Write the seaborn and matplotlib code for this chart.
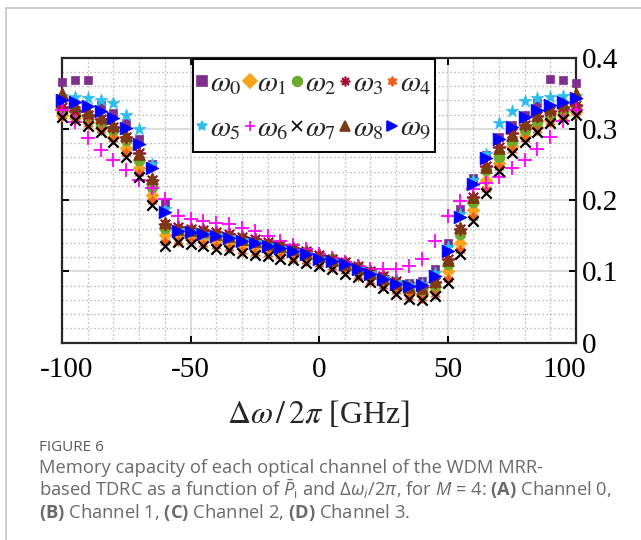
import matplotlib
matplotlib.use("Agg")
import matplotlib.pyplot as plt
import matplotlib.transforms as mtransforms
import seaborn as sns
import pandas as pd
from matplotlib.ticker import MultipleLocator, FixedLocator
from matplotlib.lines import Line2D
from matplotlib.patches import Rectangle

# Detuning grid (GHz)
detuning = [-100, -95, -90, -85, -80, -75, -70, -65, -60, -55,
            -50, -45, -40, -35, -30, -25, -20, -15, -10, -5,
            0, 5, 10, 15, 20, 25, 30, 35, 40, 45,
            50, 55, 60, 65, 70, 75, 80, 85, 90, 95, 100]

# Memory capacity per optical channel
mc_w0 = [0.365, 0.369, 0.369, 0.334, 0.322, 0.308, 0.285, 0.251, 0.196, 0.160,
         0.157, 0.155, 0.152, 0.149, 0.145, 0.142, 0.138, 0.135, 0.131, 0.126,
         0.120, 0.116, 0.112, 0.106, 0.100, 0.093, 0.087, 0.084, 0.087, 0.104,
         0.140, 0.188, 0.231, 0.263, 0.289, 0.306, 0.320, 0.336, 0.370, 0.368, 0.364]
mc_w1 = [0.320, 0.315, 0.309, 0.301, 0.289, 0.273, 0.245, 0.207, 0.151, 0.149,
         0.147, 0.145, 0.143, 0.140, 0.137, 0.134, 0.131, 0.127, 0.124, 0.120,
         0.116, 0.111, 0.105, 0.099, 0.092, 0.084, 0.077, 0.070, 0.067, 0.072,
         0.100, 0.140, 0.186, 0.228, 0.252, 0.276, 0.290, 0.302, 0.312, 0.319, 0.324]
mc_w2 = [0.325, 0.319, 0.315, 0.306, 0.298, 0.284, 0.256, 0.219, 0.161, 0.160,
         0.158, 0.156, 0.153, 0.150, 0.147, 0.143, 0.139, 0.135, 0.131, 0.127,
         0.122, 0.117, 0.112, 0.106, 0.099, 0.091, 0.084, 0.078, 0.074, 0.079,
         0.111, 0.153, 0.198, 0.242, 0.260, 0.283, 0.298, 0.310, 0.318, 0.325, 0.330]
mc_w3 = [0.330, 0.325, 0.320, 0.314, 0.303, 0.288, 0.266, 0.228, 0.166, 0.162,
         0.160, 0.158, 0.155, 0.152, 0.148, 0.145, 0.141, 0.137, 0.133, 0.128,
         0.123, 0.118, 0.113, 0.107, 0.101, 0.093, 0.086, 0.080, 0.078, 0.085,
         0.117, 0.160, 0.204, 0.248, 0.275, 0.294, 0.306, 0.318, 0.325, 0.330, 0.333]
mc_w4 = [0.318, 0.314, 0.307, 0.298, 0.286, 0.266, 0.238, 0.199, 0.141, 0.143,
         0.142, 0.138, 0.135, 0.133, 0.129, 0.126, 0.124, 0.121, 0.118, 0.115,
         0.111, 0.106, 0.100, 0.094, 0.087, 0.080, 0.072, 0.064, 0.062, 0.068,
         0.090, 0.130, 0.176, 0.216, 0.246, 0.270, 0.286, 0.298, 0.310, 0.317, 0.323]
mc_w5 = [0.346, 0.345, 0.343, 0.341, 0.336, 0.320, 0.300, 0.250, 0.188, 0.158,
         0.156, 0.153, 0.151, 0.148, 0.144, 0.141, 0.137, 0.133, 0.129, 0.124,
         0.118, 0.114, 0.110, 0.104, 0.098, 0.091, 0.085, 0.081, 0.083, 0.098,
         0.134, 0.181, 0.228, 0.265, 0.308, 0.325, 0.339, 0.343, 0.345, 0.346, 0.346]
mc_w6 = [0.327, 0.310, 0.287, 0.270, 0.256, 0.242, 0.228, 0.217, 0.201, 0.177,
         0.173, 0.171, 0.168, 0.166, 0.161, 0.156, 0.149, 0.143, 0.137, 0.131,
         0.125, 0.119, 0.113, 0.108, 0.104, 0.104, 0.104, 0.107, 0.117, 0.142,
         0.177, 0.199, 0.215, 0.224, 0.233, 0.245, 0.256, 0.271, 0.289, 0.311, 0.327]
mc_w7 = [0.316, 0.312, 0.304, 0.295, 0.282, 0.261, 0.233, 0.193, 0.136, 0.141,
         0.139, 0.135, 0.132, 0.130, 0.126, 0.123, 0.121, 0.118, 0.116, 0.112,
         0.108, 0.103, 0.097, 0.092, 0.085, 0.077, 0.069, 0.061, 0.060, 0.065,
         0.084, 0.125, 0.170, 0.210, 0.241, 0.266, 0.282, 0.295, 0.308, 0.314, 0.320]
mc_w8 = [0.350, 0.333, 0.325, 0.316, 0.306, 0.292, 0.265, 0.231, 0.169, 0.160,
         0.158, 0.156, 0.153, 0.150, 0.146, 0.143, 0.139, 0.135, 0.131, 0.126,
         0.121, 0.116, 0.111, 0.105, 0.098, 0.091, 0.084, 0.078, 0.077, 0.086,
         0.116, 0.162, 0.205, 0.246, 0.273, 0.292, 0.308, 0.320, 0.329, 0.336, 0.350]
mc_w9 = [0.341, 0.337, 0.332, 0.325, 0.315, 0.301, 0.278, 0.245, 0.184, 0.157,
         0.155, 0.153, 0.150, 0.147, 0.143, 0.140, 0.136, 0.133, 0.129, 0.124,
         0.118, 0.114, 0.110, 0.104, 0.097, 0.090, 0.083, 0.080, 0.081, 0.094,
         0.128, 0.176, 0.222, 0.259, 0.285, 0.303, 0.317, 0.326, 0.333, 0.338, 0.343]

channels = ["w0", "w1", "w2", "w3", "w4", "w5", "w6", "w7", "w8", "w9"]
labels = [r"$\omega_{%d}$" % i for i in range(10)]
series = [mc_w0, mc_w1, mc_w2, mc_w3, mc_w4, mc_w5, mc_w6, mc_w7, mc_w8, mc_w9]

x_ticks = [-100, -50, 0, 50, 100]
x_tick_labels = ["-100", "-50", "0", "50", "100"]
y_ticks = [0, 0.1, 0.2, 0.3, 0.4]
y_tick_labels = ["0", "0.1", "0.2", "0.3", "0.4"]

# marker style per channel: marker, colour, scatter size, line width
styles = {
    "w0": dict(marker="s", color="#7E2F8E", s=40, lw=0.5),
    "w1": dict(marker="D", color="#F9A51A", s=42, lw=0.5),
    "w2": dict(marker="o", color="#6DAA2C", s=62, lw=0.5),
    "w3": dict(marker=(8, 2, 0), color="#A2142F", s=70, lw=1.3),
    "w4": dict(marker=(6, 1, 0), color="#EE5F1B", s=60, lw=0.5),
    "w5": dict(marker="*", color="#2BBDEE", s=90, lw=0.5),
    "w6": dict(marker="+", color="#FF00FF", s=95, lw=1.3),
    "w7": dict(marker="x", color="#000000", s=55, lw=1.6),
    "w8": dict(marker="^", color="#7A3A12", s=72, lw=0.5),
    "w9": dict(marker=">", color="#0000FF", s=85, lw=0.5),
}

df = pd.DataFrame({
    "detuning": detuning * len(channels),
    "mc": sum(series, []),
    "channel": sum([[c] * len(detuning) for c in channels], []),
})

sns.set_style("white")
plt.rcParams["font.family"] = ["Liberation Serif", "DejaVu Serif"]
plt.rcParams["mathtext.fontset"] = "stix"
plt.rcParams["mathtext.rm"] = "Open Sans"
plt.rcParams["mathtext.it"] = "Open Sans:italic"
plt.rcParams["mathtext.bf"] = "Open Sans:bold"
plt.rcParams["axes.unicode_minus"] = False

fig = plt.figure(figsize=(6.41, 5.40), dpi=100)
ax = fig.add_axes([62 / 641, 1 - 342.7 / 540, 514 / 641, 285.2 / 540])

for i, ch in enumerate(channels):
    st = styles[ch]
    sub = df[df["channel"] == ch]
    sns.scatterplot(data=sub, x="detuning", y="mc", ax=ax, marker=st["marker"],
                    color=st["color"], s=st["s"], linewidth=st["lw"],
                    edgecolor=st["color"], legend=False, zorder=3 + i, clip_on=False)

ax.set_xlim(-100, 100)
ax.set_ylim(0, 0.4)
ax.xaxis.set_major_locator(FixedLocator(x_ticks))
ax.set_xticklabels(x_tick_labels)
ax.yaxis.set_major_locator(FixedLocator(y_ticks))
ax.set_yticklabels(y_tick_labels)
ax.xaxis.set_minor_locator(MultipleLocator(10))
ax.yaxis.set_minor_locator(MultipleLocator(0.02))

ax.set_axisbelow(True)
ax.grid(which="major", color="#d4d4d4", linewidth=1.1, linestyle="-")
ax.grid(which="minor", color="#a9a9a9", linewidth=0.9, linestyle=(0, (1, 2.2)))

ax.tick_params(which="major", direction="in", length=5, width=1.4, top=True,
               bottom=True, left=True, right=True, labelleft=False,
               labelright=True, labelsize=21, colors="#000000")
ax.tick_params(axis="x", pad=10)
ax.tick_params(axis="y", pad=4)
ax.tick_params(which="minor", length=0)
for sp in ax.spines.values():
    sp.set_linewidth(1.6)
    sp.set_color("#262626")

# pull the two end labels of the x axis slightly inwards
xticks_major = ax.xaxis.get_major_ticks()
for tk, dx in ((xticks_major[0], 5), (xticks_major[-1], -12)):
    tk.label1.set_transform(tk.label1.get_transform()
                            + mtransforms.ScaledTranslation(dx / 100, 0, fig.dpi_scale_trans))

ax.set_xlabel(r"$\Delta\omega\,/\,2\pi$ [GHz]", fontsize=23, labelpad=12)
ax.set_ylabel("")

# legend box (white, black outline) drawn over the markers
fig.add_artist(Rectangle((193 / 641, 1 - 152 / 540), 242 / 641, 93 / 540,
                         transform=fig.transFigure, facecolor="white",
                         edgecolor="#000000", linewidth=1.4, zorder=19))

# legend laid out row by row: w0..w4 on top, w5..w9 below
order = [0, 5, 1, 6, 2, 7, 3, 8, 4, 9]
handles = [Line2D([], [], linestyle="None", marker=styles[channels[k]]["marker"],
                  color=styles[channels[k]]["color"],
                  markeredgecolor=styles[channels[k]]["color"],
                  markersize=7, markeredgewidth=1.2) for k in order]
leg = fig.legend(handles, [labels[k] for k in order], ncol=5, loc="upper left",
                 bbox_to_anchor=(196 / 641, 1 - 71 / 540),
                 bbox_transform=fig.transFigure, fontsize=21, frameon=False,
                 handlelength=0.42, handletextpad=0.05, columnspacing=0.08,
                 borderpad=0, labelspacing=0.62, borderaxespad=0)
leg.set_zorder(20)

# page frame
fig.add_artist(Line2D([6 / 641, 1], [1 - 8 / 540, 1 - 8 / 540], color="#c6c6c6", lw=1.2))
fig.add_artist(Line2D([6 / 641, 6 / 641], [0, 1 - 8 / 540], color="#c6c6c6", lw=1.2))

cap_kw = dict(family="Open Sans", color="#6a6a6a", fontsize=13.2, math_fontfamily="custom")
fig.text(39 / 641, 1 - 451 / 540, "FIGURE 6", family="Open Sans", color="#5a5a5a",
         fontsize=11, va="baseline")
fig.text(39 / 641, 1 - 473 / 540,
         "Memory capacity of each optical channel of the WDM MRR-",
         va="baseline", **cap_kw)
fig.text(39 / 641, 1 - 496 / 540,
         r"based TDRC as a function of $\bar{P}_\mathrm{i}$ and $\Delta\omega_i/2\pi$, "
         r"for $M$ = 4: $\mathbf{(A)}$ Channel 0,",
         va="baseline", **cap_kw)
fig.text(39 / 641, 1 - 518 / 540,
         r"$\mathbf{(B)}$ Channel 1, $\mathbf{(C)}$ Channel 2, $\mathbf{(D)}$ Channel 3.",
         va="baseline", **cap_kw)

fig.savefig("out.png", dpi=100)
